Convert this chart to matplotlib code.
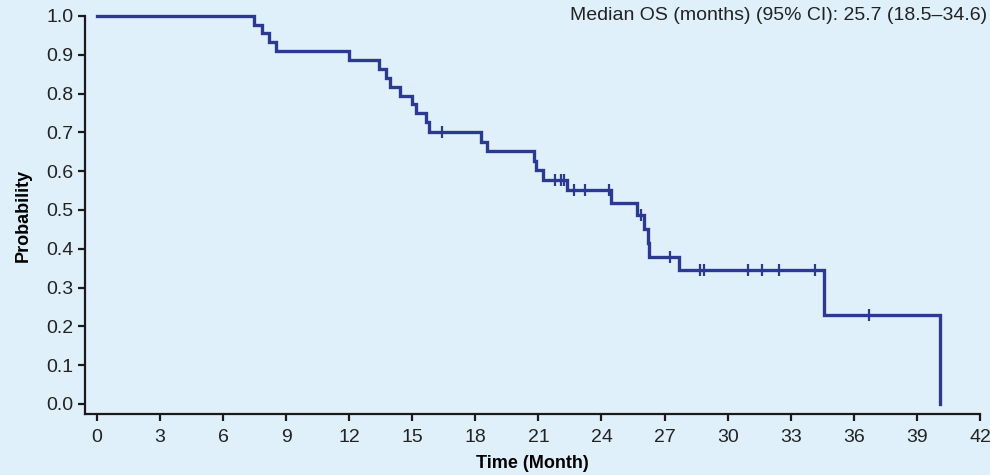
import matplotlib.pyplot as plt

plt.rcParams['font.family'] = ['Liberation Sans', 'DejaVu Sans']

# Kaplan-Meier step curve: time of each step (months) and survival after it
step_times = [0, 7.46, 7.86, 8.17, 8.54, 12.0, 13.4, 13.73, 13.94, 14.44, 14.97,
              15.16, 15.64, 15.8, 18.25, 18.54, 20.79, 20.87, 21.22, 22.35,
              24.44, 25.68, 26.03, 26.19, 26.27, 27.7, 34.57, 40.11]
step_surv = [1.0, 0.977, 0.955, 0.932, 0.909, 0.886, 0.864, 0.841, 0.818, 0.795,
             0.773, 0.750, 0.727, 0.700, 0.674, 0.651, 0.625, 0.604, 0.578, 0.552,
             0.518, 0.488, 0.451, 0.416, 0.379, 0.344, 0.228, 0.0]

# censored observations
cens_times = [16.43, 21.78, 22.06, 22.22, 22.67, 23.22, 24.36, 25.87, 27.27,
              28.70, 28.89, 30.95, 31.62, 32.46, 34.16, 36.70]
cens_surv = [0.700, 0.578, 0.578, 0.578, 0.552, 0.552, 0.552, 0.488, 0.379,
             0.344, 0.344, 0.344, 0.344, 0.344, 0.344, 0.228]

x_ticks = list(range(0, 43, 3))
y_ticks = [i / 10 for i in range(11)]

bg = '#dff0fb'
line_col = '#2b3990'

fig = plt.figure(figsize=(9.9, 4.75), dpi=100, facecolor=bg)
ax = fig.add_axes([85 / 990, (475 - 414) / 475, (980 - 85) / 990, (414 - 16) / 475])
ax.set_facecolor(bg)

ax.step(step_times, step_surv, where='post', color=line_col, lw=2.4,
        clip_on=False, solid_joinstyle='miter')
ax.plot(cens_times, cens_surv, ls='none', marker='|', ms=8, mew=1.6,
        color=line_col, clip_on=False)

ax.set_xlim(-0.56, 42)
ax.set_ylim(-0.026, 1.0)
ax.set_xticks(x_ticks)
ax.set_yticks(y_ticks)
ax.set_yticklabels([f'{v:.1f}' for v in y_ticks])

for s in ['top', 'right']:
    ax.spines[s].set_visible(False)
for s in ['left', 'bottom']:
    ax.spines[s].set_linewidth(1.6)
    ax.spines[s].set_color('#1a1a1a')
ax.tick_params(width=1.6, length=5, labelsize=14, color='#1a1a1a',
               labelcolor='#222222')
ax.tick_params(axis='x', pad=6)

ax.set_xlabel('Time (Month)', fontsize=13, fontweight='bold', labelpad=6)
ax.set_ylabel('Probability', fontsize=13, fontweight='bold', labelpad=10)

ax.text(42.35, 1.0, 'Median OS (months) (95% CI): 25.7 (18.5\u201334.6)',
        ha='right', va='center', fontsize=14, color='#222222')

fig.savefig('out.png', dpi=100, facecolor=bg)
